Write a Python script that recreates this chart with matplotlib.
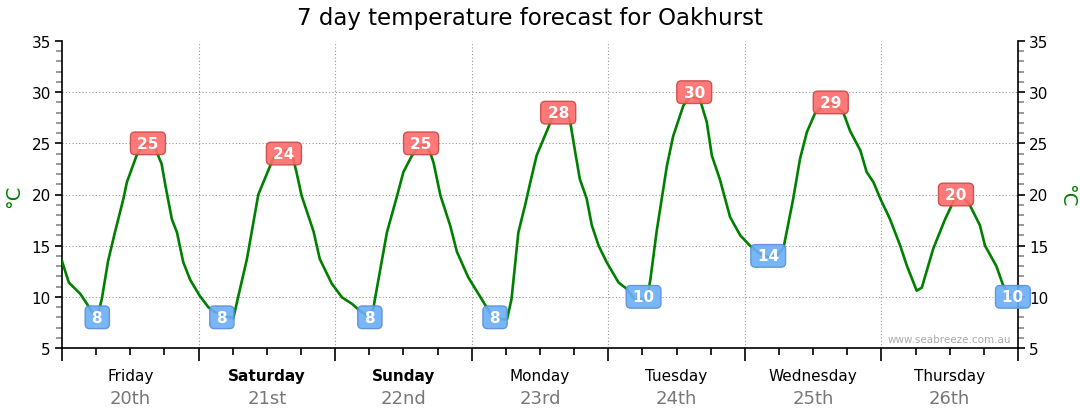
import matplotlib
matplotlib.use("Agg")
import matplotlib.pyplot as plt
from matplotlib.ticker import MultipleLocator
from matplotlib.transforms import blended_transform_factory

title = "7 day temperature forecast for Oakhurst"
days = ["Friday", "Saturday", "Sunday", "Monday", "Tuesday", "Wednesday", "Thursday"]
dates = ["20th", "21st", "22nd", "23rd", "24th", "25th", "26th"]
bold_days = ["Saturday", "Sunday"]

# hours since start of Friday, temperature in deg C
hours = [0, 1.2, 3.2, 4.4, 5.2, 6.2, 7.0, 8.1, 9.3, 10.8, 11.4, 13.1, 14.0, 15.0, 16.0,
         17.5, 18.2, 19.3, 20.2, 21.3, 22.5, 24.2, 25.7, 26.6, 28.1, 30.1, 31.0, 32.5,
         34.5, 37.1, 38.7, 39.6, 40.4, 41.2, 42.1, 44.2, 45.3, 47.4, 49.2, 51.0, 52.4,
         53.5, 54.7, 55.0, 57.1, 58.8, 60.0, 61.5, 62.9, 63.8, 64.7, 65.3, 66.5, 68.2,
         69.4, 71.4, 74.6, 75.5, 77.0, 78.2, 79.0, 80.2, 81.4, 82.3, 83.4, 84.6, 86.1,
         87.2, 88.7, 89.3, 90.2, 91.0, 92.2, 93.1, 94.3, 95.7, 97.8, 99.2, 100.7, 102.8,
         103.4, 104.5, 106.3, 107.4, 109.2, 110.5, 112.1, 113.3, 114.2, 115.6, 117.4,
         119.2, 120.9, 122.7, 124.1, 125.6, 126.8, 128.5, 129.7, 130.9, 132.3, 134.0,
         135.5, 137.3, 138.5, 140.3, 141.4, 142.6, 143.8, 145.5, 147.3, 148.5, 150.2,
         151.1, 153.1, 155.2, 156.9, 158.5, 159.5, 161.3, 162.2, 164.2, 165.4, 166.6]
temps = [13.5, 11.4, 10.3, 9.3, 8.6, 8.0, 9.8, 13.5, 16.3, 19.6, 21.2, 23.8, 24.6, 25.0, 25.0,
         23.0, 20.8, 17.6, 16.3, 13.4, 11.7, 10.1, 9.0, 8.6, 8.2, 7.9, 10.1, 13.7,
         20.0, 23.5, 24.3, 24.3, 24.0, 22.2, 19.9, 16.4, 13.7, 11.3, 9.95, 9.3, 8.6,
         8.2, 8.8, 9.8, 16.3, 19.7, 22.2, 23.8, 24.8, 24.8, 24.1, 23.1, 19.9, 17.0,
         14.4, 11.9, 9.0, 8.2, 7.8, 7.8, 9.8, 16.3, 19.0, 21.2, 23.8, 25.4, 27.4,
         28.0, 28.2, 27.1, 24.1, 21.5, 19.6, 17.0, 15.0, 13.4, 11.4, 10.8, 9.7, 9.8,
         11.7, 16.4, 22.8, 25.7, 28.7, 29.6, 29.3, 27.1, 23.8, 21.5, 17.8,
         16.0, 15.0, 14.2, 13.9, 14.0, 14.8, 19.6, 23.5, 26.1, 27.9, 28.8,
         28.9, 28.0, 26.2, 24.3, 22.2, 21.2, 19.6, 17.6, 15.0, 13.0, 10.6,
         10.9, 14.7, 17.6, 19.6, 19.6, 19.0, 17.0, 15.0, 13.0, 11.1, 10.2]

max_hours = [15.1, 39.0, 63.1, 87.2, 111.1, 135.1, 157.1]
max_vals = [25, 24, 25, 28, 30, 29, 20]
min_hours = [6.2, 28.1, 54.1, 76.1, 102.2, 124.1, 167.1]
min_vals = [8, 8, 8, 8, 10, 14, 10]

W, H = 1080, 414
fig = plt.figure(figsize=(W / 100, H / 100), dpi=100)
ax = fig.add_axes([62 / W, 1 - 349 / H, (1018 - 62) / W, (349 - 42) / H])

ax.plot(hours, temps, color="#008000", lw=1.9, zorder=3, solid_joinstyle="round")

ax.set_xlim(0, 168)
ax.set_ylim(5, 35)

ax.xaxis.set_major_locator(MultipleLocator(24))
ax.xaxis.set_minor_locator(MultipleLocator(6))
ax.yaxis.set_major_locator(MultipleLocator(5))
ax.yaxis.set_minor_locator(MultipleLocator(1))
ax.set_xticklabels([])

for v in range(10, 35, 5):
    ax.axhline(v, color="#999999", lw=0.8, ls=(0, (1, 2)), zorder=1)
for d in range(24, 168, 24):
    ax.axvline(d, color="#999999", lw=0.8, ls=(0, (1, 2)), zorder=1)

ax.spines["top"].set_visible(False)
for s in ["left", "right", "bottom"]:
    ax.spines[s].set_linewidth(1.2)
    ax.spines[s].set_color("black")

ax.tick_params(axis="y", which="both", left=True, right=True, labelleft=True,
               labelright=True, direction="out")
ax.tick_params(axis="y", which="major", length=5, width=1.2, color="black",
               labelsize=11, pad=3)
ax.tick_params(axis="y", which="minor", length=4, width=1.2, color="#888888")
ax.tick_params(axis="x", which="major", length=9, width=1.2, color="black")
ax.tick_params(axis="x", which="minor", length=5, width=1.2, color="black")

tr = blended_transform_factory(ax.transData, ax.transAxes)
for i, (dname, dt) in enumerate(zip(days, dates)):
    xc = 24 * i + 12
    ax.text(xc, -0.09, dname, transform=tr, ha="center", va="center", fontsize=11,
            color="black", fontweight="bold" if dname in bold_days else "normal")
    ax.text(xc, -0.163, dt, transform=tr, ha="center", va="center", fontsize=13,
            color="#777777")

thin = "\u2009"
for h, v in zip(max_hours, max_vals):
    ax.text(h, v, f"{thin}{v}{thin}", ha="center", va="center", fontsize=11,
            fontweight="bold", color="white", zorder=5,
            bbox=dict(boxstyle="round,pad=0.25,rounding_size=0.3", fc="#ff6b6b",
                      ec="#c94848", lw=1, alpha=0.9))
for h, v in zip(min_hours, min_vals):
    ax.text(h, v, f"{thin}{v}{thin}", ha="center", va="center", fontsize=11,
            fontweight="bold", color="white", zorder=5,
            bbox=dict(boxstyle="round,pad=0.25,rounding_size=0.3", fc="#6aaef8",
                      ec="#5a8fdc", lw=1, alpha=0.9))

ax.text(0.993, 0.03, "www.seabreeze.com.au", transform=ax.transAxes, ha="right",
        va="center", fontsize=7.5, color="#aaaaaa")

fig.text(530 / W, 1 - 18 / H, title, ha="center", va="center", fontsize=16.5, color="black")
fig.text(14 / W, 1 - 196 / H, "°C", ha="center", va="center", fontsize=14,
         color="#008000", rotation=90)
fig.text(1067 / W, 1 - 196 / H, "°C", ha="center", va="center", fontsize=14,
         color="#008000", rotation=270)

fig.savefig("out.png", dpi=100)
